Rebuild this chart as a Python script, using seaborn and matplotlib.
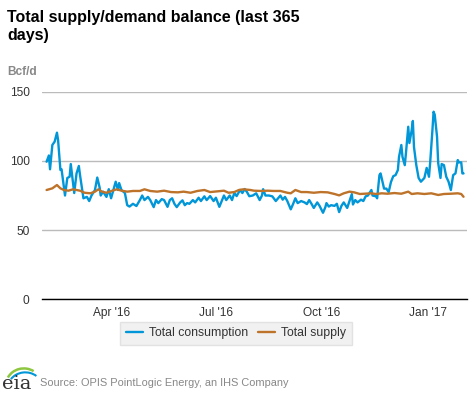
import numpy as np
import pandas as pd
import matplotlib
matplotlib.use("Agg")
import matplotlib.pyplot as plt
import matplotlib.dates as mdates
from matplotlib.patches import Arc
import seaborn as sns

# Values: day offset from 1 Feb 2016, Bcf/d
cons_day = [4, 6, 7, 9, 11, 13, 14, 16, 17, 20, 22, 24, 25, 27, 28, 30, 32, 33, 36, 39,
            41, 43, 46, 48, 50, 51, 53, 56, 58, 60, 62, 64, 66, 67, 69, 72, 74, 76, 79, 82,
            85, 87, 89, 92, 94, 97, 99, 101, 104, 106, 109, 111, 113, 115, 117, 120, 122, 124, 126, 128,
            131, 133, 136, 138, 141, 143, 146, 149, 151, 154, 156, 158, 160, 163, 165, 167, 169, 172, 174, 176,
            178, 180, 183, 186, 189, 191, 192, 194, 197, 200, 203, 205, 207, 209, 211, 213, 216, 218, 220, 222,
            225, 228, 230, 232, 234, 236, 239, 241, 244, 246, 247, 249, 251, 254, 256, 258, 260, 262, 265, 267,
            269, 270, 272, 274, 277, 279, 281, 283, 286, 287, 290, 291, 293, 294, 297, 299, 301, 303, 305, 307,
            309, 310, 312, 313, 315, 316, 318, 319, 321, 322, 323, 325, 327, 329, 332, 334, 336, 337, 339, 340,
            341, 343, 344, 346, 347, 349, 351, 353, 355, 357, 359, 361, 362, 364, 365, 366]
cons_val = [99.5, 104, 94, 111.6, 114, 120.5, 115, 93.5, 94, 75, 87.7, 88.6, 97.8, 84, 76.8, 91, 96.4, 90, 73, 74,
            71, 75, 79, 88, 81, 75, 77.8, 74, 79.6, 73, 79, 85, 79, 84, 79, 76.8, 68, 67, 69, 67.4,
            71.7, 75, 71.7, 74, 71.7, 66.6, 71.7, 69.5, 72.4, 71.7, 66.8, 71.7, 73, 69, 66.6, 70, 71.5, 68, 69.5, 69,
            71.7, 70, 73.4, 71, 74.4, 71.7, 74.6, 71, 73.4, 66.8, 71, 75, 71.7, 75, 71.7, 76.8, 74.6, 79, 76.8, 79.7,
            77.5, 74.5, 75, 76.6, 71.7, 75, 79.6, 75, 75, 74.4, 71, 73, 75, 72, 74, 71, 65, 68.8, 73, 69.5,
            71, 70, 68.8, 71.7, 69, 66, 70, 67.5, 62.5, 66.5, 69.5, 67, 68, 67.5, 69, 63, 67.5, 70, 66, 71,
            76, 68.5, 71.7, 70, 72, 71, 74.4, 75, 79, 75, 74.4, 73, 89.8, 91, 80, 80, 77.5, 84.8, 89, 89.8,
            93.5, 103, 111.6, 103, 97, 105.6, 124.8, 113, 122.4, 129, 110, 97, 87.7, 85, 87.7, 95, 88.6, 98.5, 122.4, 135.7,
            133.5, 117.6, 98.5, 87.7, 97.8, 97, 88.6, 85, 79, 89.8, 91, 100.7, 99, 99, 91, 91]

supply_day = [4, 9, 13, 16, 19, 23, 27, 33, 37, 42, 46, 49, 52, 56, 61, 65, 69, 74, 79, 85,
              89, 94, 100, 106, 112, 118, 123, 129, 135, 141, 146, 152, 158, 162, 167, 171, 175, 181, 184, 190,
              196, 201, 207, 213, 216, 220, 225, 230, 236, 242, 248, 254, 258, 262, 267, 271, 276, 280, 286, 290,
              295, 300, 306, 312, 318, 321, 326, 332, 338, 344, 349, 355, 361, 364, 366]
supply_val = [79.0, 80.2, 82.6, 80.2, 79.0, 78.5, 79.5, 78.5, 77.0, 76.6, 77.8, 79.5, 77.8, 77.0, 78.5, 79.5, 78.5, 77.8, 78.3, 78.3,
              79.5, 78.3, 77.8, 78.5, 77.5, 77.3, 77.8, 77.0, 78.3, 79.0, 77.5, 78.0, 78.5, 77.0, 77.5, 79.0, 79.5, 79.0, 78.5, 78.3,
              78.5, 78.3, 78.3, 77.0, 76.6, 79.0, 77.5, 77.5, 77.0, 77.5, 77.3, 76.1, 75.1, 76.6, 77.8, 77.3, 76.1, 76.3, 76.6, 76.1,
              76.6, 76.3, 76.8, 76.3, 77.8, 76.1, 76.6, 76.1, 76.6, 75.4, 76.1, 76.3, 76.6, 76.1, 74.1]

series_names = ["Total consumption", "Total supply"]
series_colors = ["#0096d7", "#bd732a"]

start = pd.Timestamp("2016-02-01")
df = pd.concat([
    pd.DataFrame({"date": start + pd.to_timedelta(cons_day, unit="D"), "value": cons_val,
                  "series": series_names[0]}),
    pd.DataFrame({"date": start + pd.to_timedelta(supply_day, unit="D"), "value": supply_val,
                  "series": series_names[1]}),
])

sns.set_style("white")
plt.rcParams["font.family"] = ["Liberation Sans", "DejaVu Sans"]

fig = plt.figure(figsize=(4.77, 3.93), dpi=100)
ax = fig.add_axes([0.088, 0.239, 0.891, 0.527])

sns.lineplot(data=df, x="date", y="value", hue="series", palette=series_colors,
             hue_order=series_names, linewidth=1.7, ax=ax, legend=False)

ax.set_ylim(0, 150)
ax.set_yticks([0, 50, 100, 150])
ax.set_xlim(pd.Timestamp("2016-02-01"), pd.Timestamp("2017-02-04"))
ax.set_xticks(pd.to_datetime(["2016-04-01", "2016-07-01", "2016-10-01", "2017-01-01"]))
ax.xaxis.set_major_formatter(mdates.DateFormatter("%b '%y"))
ax.set_xlabel("")
ax.set_ylabel("")

for s in ["top", "right", "left"]:
    ax.spines[s].set_visible(False)
ax.spines["bottom"].set_color("#000000")
ax.spines["bottom"].set_linewidth(1.0)
ax.grid(axis="y", color="#bbbbbb", linewidth=1.0)
ax.grid(axis="x", visible=False)
ax.set_axisbelow(True)
ax.tick_params(axis="x", length=5, width=0.8, color="#000000", labelsize=8.6, labelcolor="#333333", pad=1)
ax.tick_params(axis="y", length=0, labelsize=8.6, labelcolor="#333333", pad=9)

handles = [plt.Line2D([], [], color=c, linewidth=1.7) for c in series_colors]
leg = fig.legend(handles, series_names, loc="center", bbox_to_anchor=(0.495, 0.152), ncol=2,
                 frameon=True, fancybox=False, fontsize=8.8, handlelength=1.4, handletextpad=0.5,
                 columnspacing=0.8, borderpad=0.45)
leg.get_frame().set_facecolor("#eeeeee")
leg.get_frame().set_edgecolor("#dddddd")
for t in leg.get_texts():
    t.set_color("#333333")

fig.text(0.0147, 0.975, "Total supply/demand balance (last 365\ndays)", fontsize=11.5,
         fontweight="bold", va="top", ha="left", color="#000000", linespacing=1.25)
fig.text(0.0147, 0.817, "Bcf/d", fontsize=8.6, fontweight="bold", color="#888888", va="center", ha="left")

# footer: eia mark and source
fig.text(0.004, 0.0, "eia", family="DejaVu Serif", fontsize=14, color="#333333", va="bottom", ha="left")
fig.add_artist(Arc((0.05, 0.02), 0.075, 0.085, theta1=60, theta2=150, color="#8dc63f",
                   linewidth=1.8, transform=fig.transFigure))
fig.add_artist(Arc((0.053, 0.01), 0.075, 0.085, theta1=55, theta2=140, color="#0096d7",
                   linewidth=1.5, transform=fig.transFigure))
fig.text(0.084, 0.025, "Source: OPIS PointLogic Energy, an IHS Company", fontsize=7.9,
         color="#888888", va="center", ha="left")

fig.savefig("out.png", dpi=100)
